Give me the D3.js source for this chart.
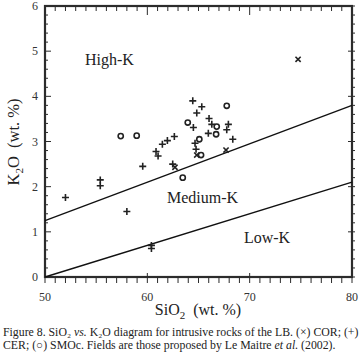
<!DOCTYPE html>
<html>
<head>
<meta charset="utf-8">
<script src="https://cdn.jsdelivr.net/npm/d3@7"></script>
<style>
  body { margin: 0; background: #fff; }
  svg { display: block; font-family: "Liberation Serif", "DejaVu Serif", serif; }
</style>
</head>
<body>
<svg id="chart" width="364" height="357"></svg>
<script>
//Data: [SiO2, K2O]
var corData = [[74.73, 4.82], [62.7, 2.43], [67.69, 2.81], [64.83, 2.70]];
var cerData = [[52.0, 1.76], [55.4, 2.15], [55.4, 2.02], [58.0, 1.45], [59.55, 2.45],
               [60.4, 0.70], [60.4, 0.63], [60.85, 2.78], [61.05, 2.68], [61.47, 2.94],
               [61.96, 3.02], [62.64, 3.11], [62.48, 2.50], [64.44, 3.90], [65.32, 3.77],
               [64.83, 3.63], [64.5, 3.31], [66.03, 3.51], [66.3, 3.38], [65.96, 3.18],
               [67.92, 3.38], [67.76, 3.26], [68.35, 3.05], [64.66, 2.96], [64.76, 2.83]];
var smocData = [[57.4, 3.12], [58.96, 3.13], [63.46, 2.20], [63.95, 3.42], [66.78, 3.33],
                [66.72, 3.16], [67.76, 3.79], [65.08, 3.05], [65.25, 2.70]];

//Field boundaries (Le Maitre et al. 2002)
var boundaries = [
    [[50, 1.25], [80, 3.8]],
    [[50, 0], [80, 2.1]]
];
var fieldLabels = [["High-K", 56.3, 4.7], ["Medium-K", 65.4, 1.64], ["Low-K", 71.7, 0.75]];

var xTicks = [50, 60, 70, 80];
var yTicks = [0, 1, 2, 3, 4, 5, 6];

var svg = d3.select("#chart");
//plot box edges
var pLeft = 45, pRight = 352, pTop = 6, pBottom = 277;

var x = d3.scaleLinear().domain([50, 80]).range([pLeft, pRight]);
var y = d3.scaleLinear().domain([0, 6]).range([pBottom, pTop]);

var ink = "#2b2b2b";

//Minor ticks
var xMinor = d3.range(50, 80.01, 1);
var yMinor = d3.range(0, 6.01, 0.2);

function isMajorY(d) {
    return Math.abs(d - Math.round(d)) < 0.01;
}

//bottom: outward
svg.append("g").selectAll("line")
    .data(xMinor).enter().append("line")
    .attr("x1", d => x(d)).attr("x2", d => x(d))
    .attr("y1", d => xTicks.indexOf(d) >= 0 ? pBottom - 4 : pBottom)
    .attr("y2", pBottom + 6)
    .attr("stroke", ink).attr("stroke-width", 1);
//top: inward
svg.append("g").selectAll("line")
    .data(xMinor).enter().append("line")
    .attr("x1", d => x(d)).attr("x2", d => x(d))
    .attr("y1", pTop)
    .attr("y2", d => xTicks.indexOf(d) >= 0 ? pTop + 9 : pTop + 5)
    .attr("stroke", ink).attr("stroke-width", 1);
//left: inward
svg.append("g").selectAll("line")
    .data(yMinor).enter().append("line")
    .attr("y1", d => y(d)).attr("y2", d => y(d))
    .attr("x1", pLeft)
    .attr("x2", d => isMajorY(d) ? pLeft + 6 : pLeft + 3)
    .attr("stroke", ink).attr("stroke-width", 1);
//right: outward
svg.append("g").selectAll("line")
    .data(yMinor).enter().append("line")
    .attr("y1", d => y(d)).attr("y2", d => y(d))
    .attr("x1", d => isMajorY(d) ? pRight - 4 : pRight)
    .attr("x2", pRight + 3)
    .attr("stroke", ink).attr("stroke-width", 1);

//Frame
svg.append("rect")
    .attr("x", pLeft).attr("y", pTop)
    .attr("width", pRight - pLeft).attr("height", pBottom - pTop)
    .attr("fill", "none")
    .attr("stroke", ink)
    .attr("stroke-width", 2.2);

//Tick labels
svg.append("g").selectAll("text")
    .data(xTicks).enter().append("text")
    .attr("x", d => x(d))
    .attr("y", 301)
    .attr("text-anchor", "middle")
    .attr("font-size", 12)
    .attr("fill", "#333")
    .text(d => d);

svg.append("g").selectAll("text")
    .data(yTicks).enter().append("text")
    .attr("x", 38)
    .attr("y", d => y(d) + 4)
    .attr("text-anchor", "end")
    .attr("font-size", 12)
    .attr("fill", "#333")
    .text(d => d);

//Axis titles
var xt = svg.append("text")
    .attr("x", 198).attr("y", 315)
    .attr("text-anchor", "middle")
    .attr("font-size", 16)
    .attr("fill", "#222");
xt.append("tspan").text("SiO");
xt.append("tspan").attr("font-size", 11).attr("dy", 4).text("2");
xt.append("tspan").attr("dy", -4).text("\u00a0 (wt. %)");

var yt = svg.append("text")
    .attr("transform", "translate(19,142) rotate(-90)")
    .attr("text-anchor", "middle")
    .attr("font-size", 16.5)
    .attr("fill", "#222");
yt.append("tspan").text("K");
yt.append("tspan").attr("font-size", 11).attr("dy", 4).text("2");
yt.append("tspan").attr("dy", -4).text("O\u00a0 (wt. %)");

//Boundary lines
var line = d3.line().x(d => x(d[0])).y(d => y(d[1]));
svg.append("g").selectAll("path")
    .data(boundaries).enter().append("path")
    .attr("d", line)
    .attr("fill", "none")
    .attr("stroke", "#111")
    .attr("stroke-width", 1.4);

//Field labels
svg.append("g").selectAll("text")
    .data(fieldLabels).enter().append("text")
    .attr("x", d => x(d[1]))
    .attr("y", d => y(d[2]))
    .attr("text-anchor", "middle")
    .attr("font-size", 16)
    .attr("fill", "#222")
    .text(d => d[0]);

//Markers
var marks = svg.append("g").attr("stroke", "#222").attr("fill", "none");

marks.selectAll("path.cer")
    .data(cerData).enter().append("path")
    .attr("class", "cer")
    .attr("d", d => "M" + (x(d[0]) - 3.5) + "," + y(d[1]) + "h7M" + x(d[0]) + "," + (y(d[1]) - 3.5) + "v7")
    .attr("stroke-width", 1.6);

marks.selectAll("path.cor")
    .data(corData).enter().append("path")
    .attr("class", "cor")
    .attr("d", d => "M" + (x(d[0]) - 2.6) + "," + (y(d[1]) - 2.6) + "l5.2,5.2M" + (x(d[0]) + 2.6) + "," + (y(d[1]) - 2.6) + "l-5.2,5.2")
    .attr("stroke-width", 1.6);

marks.selectAll("circle")
    .data(smocData).enter().append("circle")
    .attr("cx", d => x(d[0]))
    .attr("cy", d => y(d[1]))
    .attr("r", 2.6)
    .attr("stroke-width", 1.6);

//Caption
var cap = svg.append("g").attr("font-size", 11.8).attr("fill", "#222");
var l1 = cap.append("text").attr("x", 3).attr("y", 336);
l1.append("tspan").text("Figure 8. SiO\u2082 ");
l1.append("tspan").attr("font-style", "italic").text("vs.");
l1.append("tspan").text(" K\u2082O diagram for intrusive rocks of the LB. (\u00d7) COR; (+)");

var l2 = cap.append("text").attr("x", 3).attr("y", 349);
l2.append("tspan").text("CER; (\u25cb) SMOc. Fields are those proposed by Le Maitre ");
l2.append("tspan").attr("font-style", "italic").text("et al.");
l2.append("tspan").text(" (2002).");
</script>
</body>
</html>
